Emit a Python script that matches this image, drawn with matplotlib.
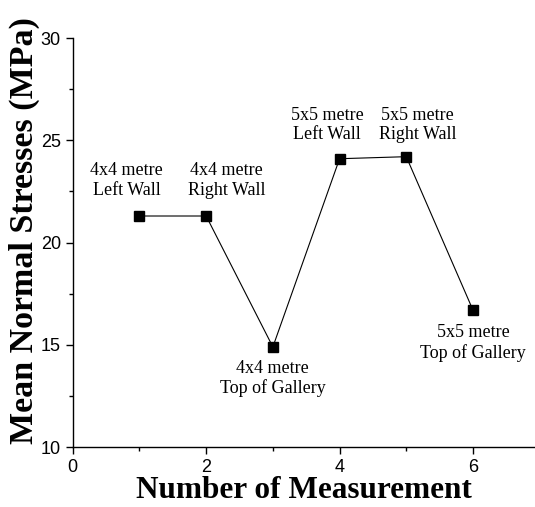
import matplotlib
matplotlib.use("Agg")
import matplotlib.pyplot as plt
from matplotlib.ticker import MultipleLocator

# data
measurement = [1, 2, 3, 4, 5, 6]
stress_mpa = [21.3, 21.3, 14.9, 24.1, 24.2, 16.7]
point_labels = [
    "4x4 metre\nLeft Wall",
    "4x4 metre\nRight Wall",
    "4x4 metre\nTop of Gallery",
    "5x5 metre\nLeft Wall",
    "5x5 metre\nRight Wall",
    "5x5 metre\nTop of Gallery",
]
# label anchor positions (data coords), placed by hand like the original
label_x = [0.81, 2.31, 3.0, 3.81, 5.17, 6.0]
label_y = [23.05, 23.05, 13.35, 25.75, 25.75, 15.1]

fig = plt.figure(figsize=(5.35, 5.07), dpi=100)
ax = fig.add_axes([0.136, 0.118, 0.864, 0.807])

ax.plot(measurement, stress_mpa, color="black", lw=0.8,
        marker="s", ms=6.5, mfc="black", mec="black")

for x, y, s in zip(label_x, label_y, point_labels):
    ax.text(x, y, s, ha="center", va="center", fontsize=13,
            family="Liberation Serif", linespacing=1.2)

ax.set_xlim(0, 6.93)
ax.set_ylim(10, 30)
ax.xaxis.set_major_locator(MultipleLocator(2))
ax.xaxis.set_minor_locator(MultipleLocator(1))
ax.yaxis.set_major_locator(MultipleLocator(5))
ax.yaxis.set_minor_locator(MultipleLocator(2.5))
ax.tick_params(which="major", direction="out", length=5, width=1,
               labelsize=13)
ax.tick_params(which="minor", direction="out", length=3, width=1)
for lab in ax.get_xticklabels() + ax.get_yticklabels():
    lab.set_family("Liberation Sans")

for side in ("top", "right"):
    ax.spines[side].set_visible(False)
for side in ("left", "bottom"):
    ax.spines[side].set_linewidth(1)

ax.set_xlabel("Number of Measurement", fontsize=22.5, fontweight="bold",
              family="Liberation Serif", labelpad=0)
ax.set_ylabel("Mean Normal Stresses (MPa)", fontsize=24.5, fontweight="bold",
              family="Liberation Serif")
ax.yaxis.set_label_coords(-0.07, 0.53)

fig.savefig("out.png", dpi=100)
